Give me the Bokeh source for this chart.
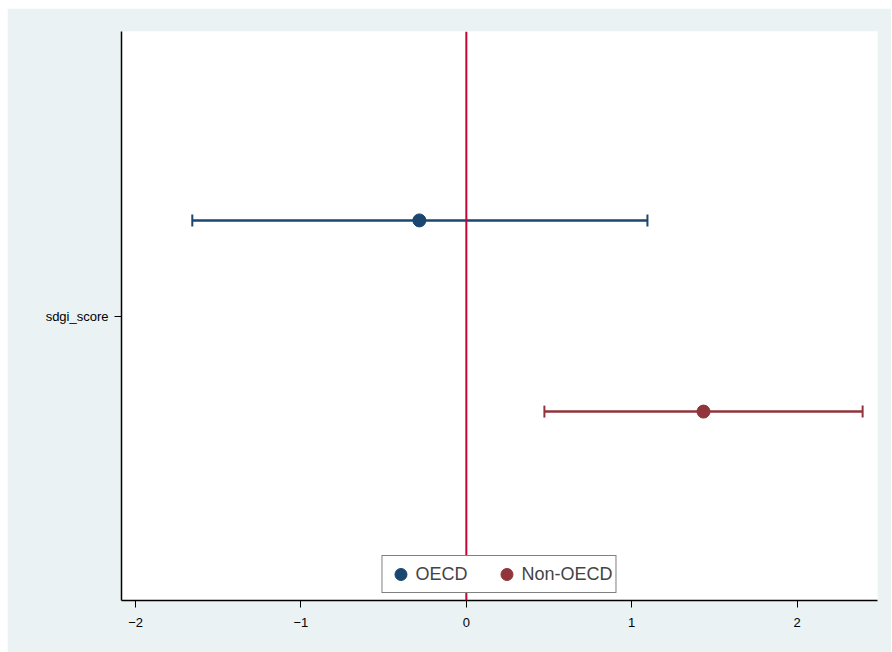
from bokeh.plotting import figure
from bokeh.models import (ColumnDataSource, Range1d, Span, Whisker, TeeHead,
                          FixedTicker, Legend, LegendItem)
from bokeh.embed import file_html
from bokeh.resources import INLINE

# ---- data ----
groups = ["OECD", "Non-OECD"]
coef = [-0.284, 1.434]
ci_low = [-1.657, 0.472]
ci_high = [1.095, 2.396]
variable = "sdgi_score"
x_ticks = [-2, -1, 0, 1, 2]
x_tick_labels = ["\u22122", "\u22121", "0", "1", "2"]

# ---- styling / layout ----
colors = ["#1A476F", "#90353B"]
offsets = [0.168, -0.168]
BG = "#EAF2F3"
FONT = "Liberation Sans"

ys = [1 + o for o in offsets]

p = figure(width=884, height=644, output_backend="svg", toolbar_location=None,
           x_range=Range1d(-2.085, 2.486), y_range=Range1d(0.5, 1.5),
           background_fill_color="white", border_fill_color=BG,
           min_border_left=114, min_border_top=23, min_border_right=14,
           min_border_bottom=52)
p.margin = (8, 0, 0, 7)
p.outline_line_color = None
p.xgrid.visible = False
p.ygrid.visible = False

# reference line at zero
p.add_layout(Span(location=0, dimension="height", line_color="#C10534",
                  line_width=2))

legend_items = []
for i, g in enumerate(groups):
    src = ColumnDataSource(dict(y=[ys[i]], lo=[ci_low[i]], hi=[ci_high[i]],
                                x=[coef[i]]))
    p.segment(x0="lo", x1="hi", y0="y", y1="y", source=src,
              line_color=colors[i], line_width=2)
    w = Whisker(base="y", lower="lo", upper="hi", dimension="width", source=src,
                line_color=colors[i], line_width=2,
                lower_head=TeeHead(size=12, line_color=colors[i], line_width=2),
                upper_head=TeeHead(size=12, line_color=colors[i], line_width=2))
    p.add_layout(w)
    r = p.scatter(x="x", y="y", source=src, size=13, fill_color=colors[i],
                  line_color=colors[i], marker="circle")
    legend_items.append(LegendItem(label=g, renderers=[r]))

legend = Legend(items=legend_items, orientation="horizontal",
                location="bottom_center")
legend.label_text_font = FONT
legend.label_text_font_size = "18px"
legend.border_line_color = "black"
legend.border_line_width = 1
legend.background_fill_color = "white"
legend.background_fill_alpha = 1
legend.margin = 7
legend.padding = 3
legend.spacing = 24
legend.glyph_width = 30
legend.glyph_height = 30
legend.label_standoff = 0
p.add_layout(legend, "center")

# axes
p.xaxis.ticker = FixedTicker(ticks=x_ticks)
p.xaxis.major_label_overrides = {t: l for t, l in zip(x_ticks, x_tick_labels)}
p.yaxis.ticker = FixedTicker(ticks=[1])
p.yaxis.major_label_overrides = {1: variable}
for ax in (p.xaxis[0], p.yaxis[0]):
    ax.axis_line_color = "black"
    ax.axis_line_width = 1.5
    ax.major_tick_line_color = "black"
    ax.major_tick_out = 7
    ax.major_tick_in = 0
    ax.minor_tick_line_color = None
    ax.major_label_text_font = FONT
    ax.major_label_text_font_size = "13px"
    ax.major_label_text_color = "black"
p.yaxis.major_label_standoff = 6
p.xaxis.major_label_standoff = 10

open("out.html", "w").write(file_html(p, INLINE))
